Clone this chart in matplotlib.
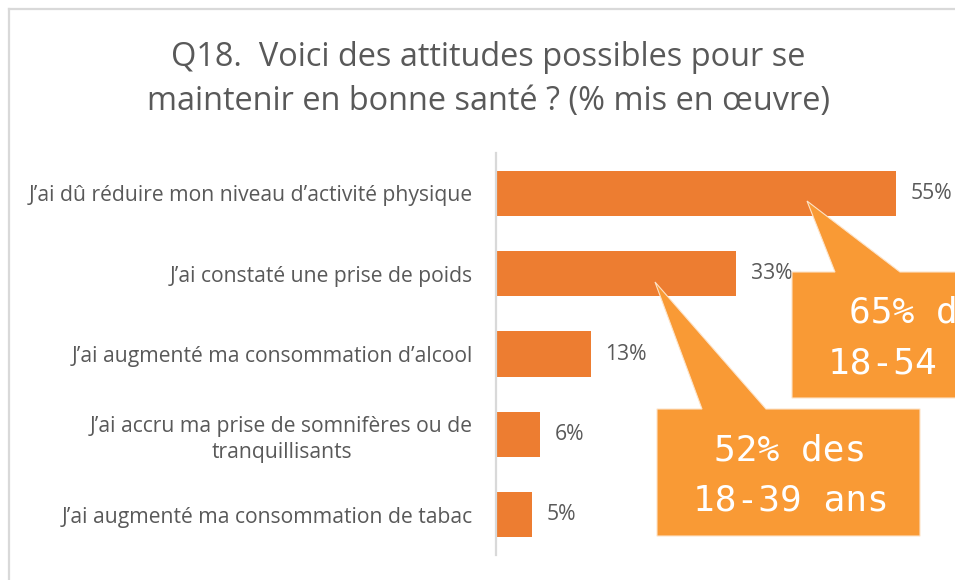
import matplotlib.pyplot as plt
from matplotlib.patches import Polygon
from matplotlib.lines import Line2D
from matplotlib.transforms import Affine2D

# Data
categories = [
    "J\u2019ai dû réduire mon niveau d\u2019activité physique",
    "J\u2019ai constaté une prise de poids",
    "J\u2019ai augmenté ma consommation d\u2019alcool",
    "J\u2019ai accru ma prise de somnifères ou de\ntranquillisants",
    "J\u2019ai augmenté ma consommation de tabac",
]
values = [55, 33, 13, 6, 5]
callout_texts = ["65% des\n18-54 ans", "52% des\n18-39 ans"]
title_lines = ["Q18.  Voici des attitudes possibles pour se",
               "maintenir en bonne santé ? (% mis en œuvre)"]

W, H = 955, 580
bar_color = '#ED7D31'
callout_color = '#F99A35'
text_color = '#595959'

plt.rcParams['font.family'] = ['Open Sans', 'DejaVu Sans']

fig = plt.figure(figsize=(W / 100, H / 100), dpi=100)
# pixel coordinates (origin top-left) -> figure
px = Affine2D().scale(1 / W, -1 / H).translate(0, 1) + fig.transFigure

# outer frame (top and left edges visible)
fig.add_artist(Line2D([9, W], [9, 9], transform=px, color='#D9D9D9', lw=1.6))
fig.add_artist(Line2D([9, 9], [9, H], transform=px, color='#D9D9D9', lw=1.6))

# title
fig.text(488 / W, 1 - 66 / H, title_lines[0], ha='center', va='baseline',
         fontsize=23.4, color=text_color)
fig.text(488 / W, 1 - 110 / H, title_lines[1], ha='center', va='baseline',
         fontsize=23.4, color=text_color)

ax = fig.add_axes([496 / W, 1 - 555 / H, (W - 496) / W, 402 / H])
y = list(range(len(values)))
ax.barh(y, values, height=0.5625, color=bar_color)
ax.set_xlim(0, (W - 496) / 7.28)
ax.set_ylim(len(values) - 0.5, -0.5)
ax.set_yticks(y)
ax.set_yticklabels(categories, fontsize=15.2, color=text_color,
                   multialignment='center', linespacing=1.3)
ax.tick_params(axis='y', length=0, pad=16.5)
ax.set_xticks([])
for s in ['top', 'right', 'bottom']:
    ax.spines[s].set_visible(False)
ax.spines['left'].set_color('#D9D9D9')
ax.spines['left'].set_linewidth(1.6)

for i, v in enumerate(values):
    ax.annotate(f"{v}%", (v, i), xytext=(10.5, 0), textcoords='offset points',
                ha='left', va='center', fontsize=15.2, color=text_color,
                annotation_clip=False)

# callouts (box in pixels, pointer base on box top edge, tip in pixels)
callouts = [
    dict(box=(792, 272, 1055, 398), base=(835, 900), tip=(807, 201),
         text=callout_texts[0]),
    dict(box=(657, 409, 920, 536), base=(702, 766), tip=(655, 282),
         text=callout_texts[1]),
]
for c in callouts:
    x0, y0, x1, y1 = c['box']
    b1, b2 = c['base']
    pts = [(x0, y0), (b1, y0), c['tip'], (b2, y0), (x1, y0), (x1, y1), (x0, y1)]
    fig.add_artist(Polygon(pts, closed=True, transform=px,
                           facecolor=callout_color, edgecolor='#FDE3C8', lw=0.8))
    fig.text((x0 + x1) / 2 / W + 2 / W, 1 - ((y0 + y1) / 2 + 3) / H, c['text'],
             transform=fig.transFigure, ha='center', va='center',
             fontsize=26, color='white', family='DejaVu Sans Mono',
             linespacing=1.62)

fig.savefig('out.png', dpi=100)
